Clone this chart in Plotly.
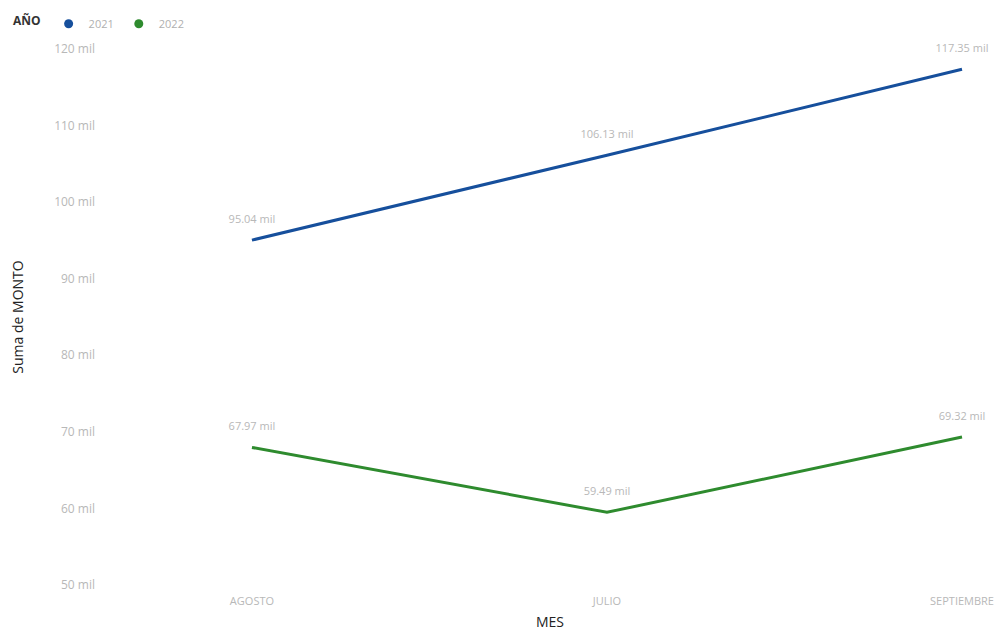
import plotly.graph_objects as go

meses = ["AGOSTO", "JULIO", "SEPTIEMBRE"]
monto_2021 = [95.04, 106.13, 117.35]
monto_2022 = [67.97, 59.49, 69.32]
tick_vals = [50, 60, 70, 80, 90, 100, 110, 120]
tick_text = [f"{v} mil" for v in tick_vals]
series = [("2021", monto_2021, "#164F9C"), ("2022", monto_2022, "#2E8B2E")]

fig = go.Figure()
for name, vals, color in series:
    fig.add_trace(go.Scatter(
        x=meses, y=vals, name=name, mode="lines+markers+text",
        line=dict(color=color, width=3),
        marker=dict(size=22, color="rgba(0,0,0,0)"),
        text=[f"{v:.2f} mil" for v in vals],
        textposition="top center",
        textfont=dict(color="#B8B8B8", size=11, family="Open Sans"),
        cliponaxis=False, showlegend=False,
    ))
for name, vals, color in series:
    fig.add_trace(go.Scatter(
        x=[None], y=[None], name=name, mode="markers",
        marker=dict(size=9, color=color), showlegend=True,
    ))

fig.update_layout(
    width=1008, height=639,
    paper_bgcolor="white", plot_bgcolor="white",
    margin=dict(l=92, r=16, t=41, b=62),
    font=dict(family="Open Sans", color="#333"),
    showlegend=True,
    legend=dict(
        orientation="h", x=0.003, y=0.998, xref="container", yref="container",
        xanchor="left", yanchor="top",
        title=dict(text="<b>AÑO</b>", font=dict(size=12, color="#333")),
        font=dict(size=11, color="#B0B0B0"),
        itemwidth=30, tracegroupgap=0,
    ),
    xaxis=dict(
        type="category", range=[-0.428, 2.107], automargin=False,
        showgrid=False, zeroline=False, showline=False,
        tickfont=dict(size=11, color="#B8B8B8"), ticklabelstandoff=8,
        title=dict(text="MES", font=dict(size=14, color="#222"), standoff=10),
    ),
    yaxis=dict(
        range=[50, 120], tickvals=tick_vals, ticktext=tick_text, automargin=False,
        showgrid=False, zeroline=False, showline=False,
        tickfont=dict(size=12, color="#B8B8B8"), ticklabelstandoff=4,
        title=dict(text="Suma de MONTO", font=dict(size=14, color="#222"), standoff=38),
    ),
)
fig.write_html("out.html")
